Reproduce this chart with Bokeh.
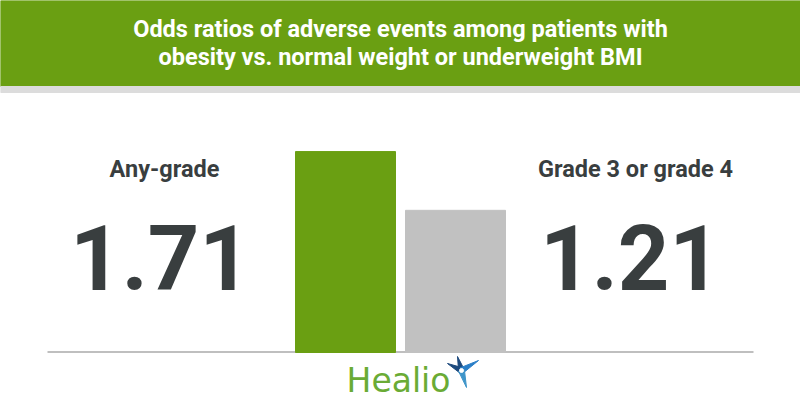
import math
from bokeh.plotting import figure
from bokeh.models import Range1d, ColumnDataSource
from bokeh.core.properties import value
from bokeh.embed import file_html
from bokeh.resources import INLINE

# ---- data ----
title_lines = ["Odds ratios of adverse events among patients with",
               "obesity vs. normal weight or underweight BMI"]
categories = ["Any-grade", "Grade 3 or grade 4"]
odds_ratios = [1.71, 1.21]
brand = "Healio"

# ---- layout / style ----
W, H = 800, 420
GREEN = "#6a9f12"
GRAY_BAR = "#c1c1c1"
DARK = "#393e3f"
BASE_PX = 352          # screen y of the bars' zero line
PX_PER_UNIT = 117.5    # bar scale
SHIFT = 0.37           # em offset of the rendered text baseline

p = figure(width=W, height=H, x_range=Range1d(0, W), y_range=Range1d(H, 0),
           output_backend="svg", toolbar_location=None, min_border=0,
           x_axis_location=None, y_axis_location=None)
p.grid.visible = False
p.outline_line_color = None
p.background_fill_color = "white"
p.border_fill_color = "white"


def base_y(y, size):
    return y - SHIFT * size


# header band
p.quad(left=[0], right=[W], top=[0], bottom=[86], color=GREEN)
p.quad(left=[0], right=[W], top=[86], bottom=[92], color="#dcdcdc")
ts = 23.5
p.text(x=[W / 2] * len(title_lines), y=[base_y(37, ts), base_y(65, ts)], text=title_lines,
       text_font=value("Roboto"), text_font_style="bold", text_font_size=f"{ts}px",
       text_color="white", text_align="center", text_baseline="alphabetic")

# baseline
p.segment(x0=[47], x1=[753], y0=[BASE_PX - 0.5], y1=[BASE_PX - 0.5],
          line_color="#bfbfbf", line_width=2)

# bars on their own value scale
p.extra_y_ranges = {"or": Range1d(start=-(H - BASE_PX) / PX_PER_UNIT,
                                  end=BASE_PX / PX_PER_UNIT)}
bar_x = [345, 455]
src = ColumnDataSource(dict(x=bar_x, top=odds_ratios, color=[GREEN, GRAY_BAR]))
p.vbar(x="x", top="top", bottom=0, width=100, color="color",
       y_range_name="or", source=src)

# category labels and big values
ls = 23.5
p.text(x=[164, 635], y=[base_y(177, ls)] * 2, text=categories,
       text_font=value("Roboto"), text_font_style="bold", text_font_size=f"{ls}px",
       text_color=DARK, text_align="center", text_baseline="alphabetic")
ns = 90
p.text(x=[160, 630], y=[base_y(290, ns)] * 2, text=[f"{v:.2f}" for v in odds_ratios],
       text_font=value("Roboto"), text_font_style="bold",
       text_font_size=f"{ns}px", text_color=DARK, text_align="center",
       text_baseline="alphabetic")

# logo
bs = 33
p.text(x=[398], y=[base_y(392, bs)], text=[brand], text_font=value("DejaVu Sans"),
       text_font_size=f"{bs}px", text_color="#6aab35", text_align="center",
       text_baseline="alphabetic")
cx, cy = 461, 370
rays = [((447, 363), "#1d4a7e"), ((457, 356), "#1d4a7e"),
        ((478, 360), "#2a7fc8"), ((466, 387), "#3f95c9")]
for (tx, ty), col in rays:
    dx, dy = tx - cx, ty - cy
    n = math.hypot(dx, dy)
    px_, py_ = -dy / n * 3, dx / n * 3
    p.patch([cx + px_, tx, cx - px_], [cy + py_, ty, cy - py_], color=col)
p.scatter([cx], [cy], size=4, color="white")

open("out.html", "w").write(file_html(p, INLINE))
